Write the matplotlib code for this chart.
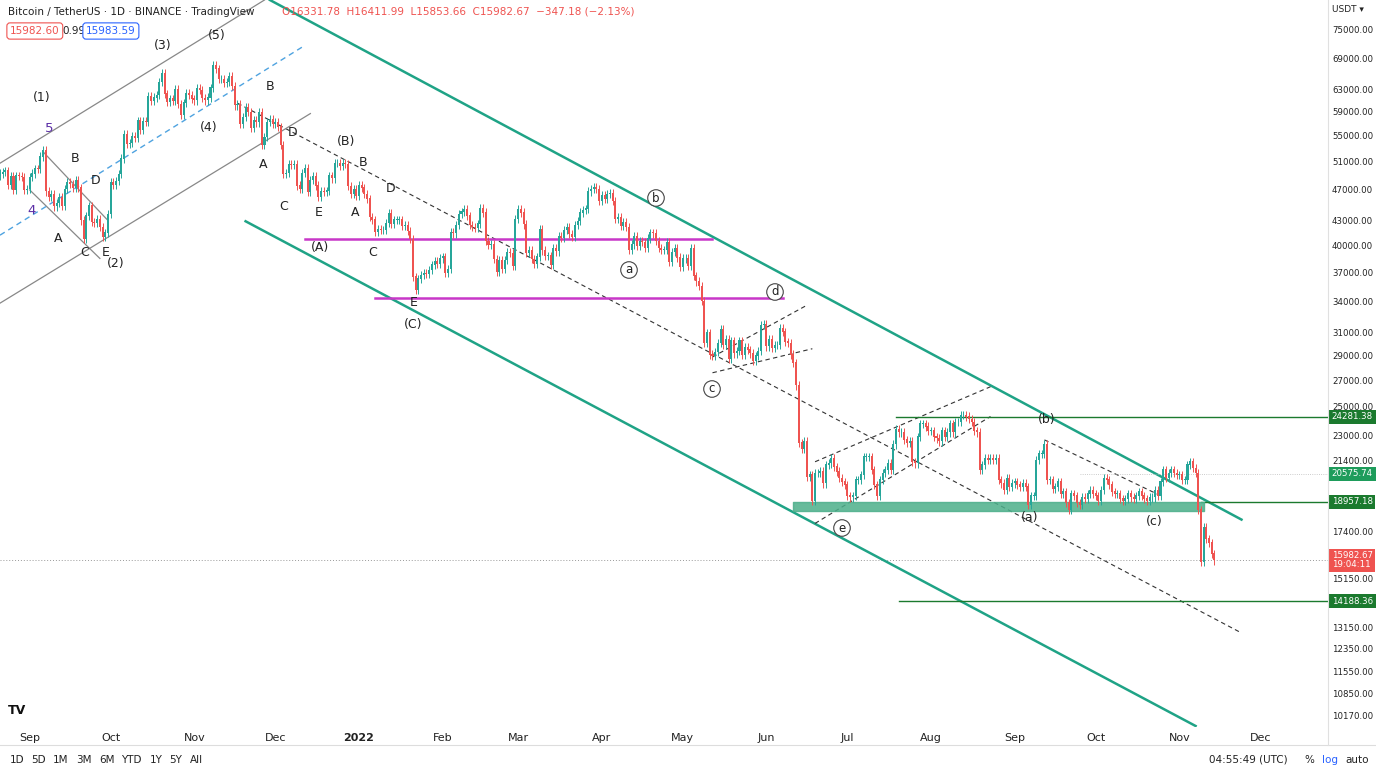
import numpy as np
import pandas as pd
import matplotlib
matplotlib.use("Agg")
import matplotlib.pyplot as plt
import matplotlib.dates as mdates
import matplotlib.transforms as mtransforms

plt.rcParams['font.family'] = ['DejaVu Sans']

# daily closes in thousands USDT, starting 2021-08-21
closes_k = [
    49.3, 49.5, 49.7, 47.7, 48.9, 47.0, 49.0, 48.9, 48.8, 47.0, 47.1,
    48.8, 49.3, 50.0, 49.9, 51.8, 52.7, 46.8, 46.1, 46.4, 44.8, 45.2, 46.0, 44.9, 47.1, 48.1,
    47.8, 47.3, 48.3, 47.3, 43.0, 40.7, 43.6, 44.9, 42.8, 42.7, 43.2, 42.2, 41.0, 41.5, 43.8,
    48.1, 47.7, 48.2, 49.2, 51.5, 55.3, 53.8, 53.9, 54.9, 54.7, 57.5, 56.0, 57.4, 57.3, 61.7,
    60.9, 61.5, 62.0, 64.3, 66.0, 62.2, 60.7, 61.3, 60.9, 63.1, 60.3, 58.5, 60.6, 62.3, 61.9, 61.3,
    61.0, 63.2, 62.9, 61.4, 61.0, 61.5, 63.3, 67.5, 66.9, 64.9, 64.9, 64.1, 64.4, 65.5, 63.6,
    60.1, 60.4, 56.9, 58.1, 59.8, 59.0, 56.3, 57.6, 57.2, 58.9, 53.6, 54.8, 57.3, 57.8, 57.0,
    57.2, 56.5, 53.6, 49.2, 49.4, 50.6, 50.5, 50.6, 47.6, 47.1, 49.4, 50.1, 46.7, 48.4, 48.9,
    47.6, 46.1, 46.8, 46.7, 46.9, 49.0, 48.6, 50.8, 50.8, 50.4, 50.8, 50.7, 47.5, 46.5, 47.1, 46.2,
    47.7, 47.3, 46.4, 45.8, 43.4, 43.1, 41.6, 41.9, 41.8, 41.8, 42.7, 43.9, 42.6, 43.1, 43.1,
    43.1, 42.3, 42.4, 41.7, 40.7, 36.5, 35.1, 36.3, 36.7, 36.9, 36.8, 37.2, 37.8, 38.2, 37.9, 38.5,
    38.7, 36.9, 37.3, 41.6, 41.4, 42.4, 43.8, 44.1, 44.4, 43.6, 42.4, 42.2, 42.1, 42.6,
    44.6, 44.0, 40.5, 40.0, 40.1, 38.4, 37.0, 38.3, 37.3, 38.3, 39.2, 39.1, 37.7, 43.2,
    44.4, 44.0, 42.5, 39.1, 39.4, 38.4, 37.9, 38.7, 41.9, 39.4, 38.8, 38.8, 37.8, 39.7, 39.3,
    41.1, 40.9, 41.8, 42.2, 41.3, 41.0, 42.4, 42.9, 44.0, 44.3, 44.5, 46.8, 47.1, 47.4, 47.1, 45.5,
    46.3, 45.8, 46.4, 46.6, 45.5, 43.2, 43.4, 42.3, 42.8, 42.2, 39.5, 40.1, 41.1, 39.9, 40.5,
    40.4, 39.7, 40.8, 41.5, 41.4, 40.5, 39.7, 39.5, 39.5, 40.4, 38.1, 39.2, 39.7, 38.6, 37.6,
    38.5, 38.5, 37.7, 39.7, 36.6, 36.0, 35.5, 34.0, 30.1, 31.0, 29.1, 29.0, 29.3, 30.1, 31.3,
    29.9, 30.4, 28.7, 30.3, 29.2, 29.4, 30.3, 29.1, 29.7, 29.5, 29.2, 28.6, 29.0, 29.4, 31.7, 31.8,
    29.8, 30.4, 29.7, 29.9, 29.9, 31.4, 31.1, 30.2, 30.1, 29.1, 28.4, 26.6, 22.5, 22.1, 22.6,
    20.4, 20.5, 19.0, 20.6, 20.6, 20.7, 20.0, 21.1, 21.2, 21.5, 21.0, 20.7, 20.3, 20.1, 19.9,
    19.3, 19.2, 19.3, 20.2, 20.2, 20.5, 21.6, 21.6, 21.6, 20.8, 19.9, 19.3, 20.2, 20.6, 20.8,
    21.2, 20.8, 22.4, 23.4, 23.2, 23.2, 22.7, 22.5, 22.6, 21.3, 21.2, 22.9, 23.8, 23.8, 23.6, 23.3,
    23.3, 22.9, 22.8, 22.6, 23.3, 22.9, 23.2, 23.8, 23.2, 23.9, 23.9, 24.4, 24.4, 24.3, 24.1,
    23.9, 23.3, 23.2, 20.8, 21.1, 21.5, 21.4, 21.5, 21.4, 21.5, 20.2, 20.0, 19.6, 20.3, 19.8, 20.0,
    20.1, 19.9, 19.8, 20.0, 19.8, 18.8, 19.3, 19.3, 21.4, 21.8, 21.8, 22.4, 20.2, 20.2, 19.7,
    19.8, 20.1, 19.4, 19.5, 18.9, 18.5, 19.4, 19.3, 18.9, 18.8, 19.2, 19.1, 19.4, 19.6, 19.4,
    19.3, 19.0, 19.6, 20.3, 20.2, 19.9, 19.5, 19.4, 19.4, 19.1, 19.0, 19.1, 19.4, 19.2, 19.1,
    19.3, 19.5, 19.3, 19.1, 19.0, 19.2, 19.2, 19.6, 19.3, 20.1, 20.8, 20.3, 20.6, 20.8, 20.6, 20.5,
    20.5, 20.2, 20.2, 21.1, 21.3, 20.9, 20.6, 18.5, 15.9, 17.6, 17.0, 16.8, 16.3, 15.98,
]
dates = pd.date_range("2021-08-21", periods=len(closes_k), freq="D")
close = np.array(closes_k) * 1000
open_ = np.concatenate([[49000], close[:-1]])
high = np.maximum(open_, close) * 1.012
low = np.minimum(open_, close) * 0.988

UP, DOWN = "#26a69a", "#ef5350"
TEAL = "#1fa386"

# trendlines: (start date, start price, end date, end price)
channel_lines = [
    ("2021-11-29", 81700, "2022-11-24", 18000),
    ("2021-11-20", 42900, "2022-11-07", 9870),
]
mid_dashed = ("2021-11-17", 60500, "2022-11-24", 12940)
gray_lines = [
    ("2021-08-21", 50800, "2021-11-27", 81700),
    ("2021-08-21", 33800, "2021-12-14", 58700),
    ("2021-09-06", 52500, "2021-09-30", 43000),
    ("2021-09-01", 47000, "2021-09-27", 38500),
]
blue_dashed = ("2021-08-21", 41200, "2021-12-12", 71600)
magenta_lines = [("2021-12-12", "2022-05-12", 40700), ("2022-01-07", "2022-06-07", 34300)]
small_dashed = [
    ("2022-05-12", 28900, "2022-06-16", 33600),
    ("2022-05-12", 27600, "2022-06-18", 29600),
    ("2022-06-19", 21300, "2022-08-23", 26500),
    ("2022-06-19", 17800, "2022-08-23", 24300),
    ("2022-09-12", 22700, "2022-10-25", 19300),
]
levels = [("2022-07-19", 24281.38), ("2022-11-09", 18957.18), ("2022-07-20", 14188.36)]
zone = ("2022-06-11", "2022-11-10", 18450, 18940)
last_price = 15982.67

fig = plt.figure(figsize=(13.76, 7.74), dpi=100)
ax = fig.add_axes([0, 0.0607, 0.965, 0.9393])
ax.set_yscale("log")

x = mdates.date2num(dates)
colors = np.where(close >= open_, UP, DOWN)
ax.vlines(x, low, high, colors=colors, lw=0.7, zorder=3)
ax.bar(x, np.abs(close - open_) + 40, bottom=np.minimum(open_, close), width=0.75,
       color=colors, zorder=4)

def d(s):
    return mdates.datestr2num(s)

for a, p1, b, p2 in channel_lines:
    ax.plot([d(a), d(b)], [p1, p2], color=TEAL, lw=1.8, zorder=2)
a, p1, b, p2 = mid_dashed
ax.plot([d(a), d(b)], [p1, p2], color="#333", lw=0.8, ls=(0, (4, 3)), zorder=2)
for a, p1, b, p2 in gray_lines:
    ax.plot([d(a), d(b)], [p1, p2], color="#888", lw=0.9, zorder=2)
a, p1, b, p2 = blue_dashed
ax.plot([d(a), d(b)], [p1, p2], color="#4fa3e0", lw=1, ls=(0, (4, 3)), zorder=2)
for a, b, p in magenta_lines:
    ax.plot([d(a), d(b)], [p, p], color="#c837c8", lw=1.8, zorder=2)
for a, p1, b, p2 in small_dashed:
    ax.plot([d(a), d(b)], [p1, p2], color="#333", lw=0.8, ls=(0, (4, 3)), zorder=2)
for a, p in levels:
    ax.plot([d(a), d("2023-01-10")], [p, p], color="#1b7a2e", lw=1, zorder=2)
ax.plot([d("2022-09-25"), d("2023-01-10")], [20575.74, 20575.74], color="#bbb", lw=0.6, ls=":")
a, b, p1, p2 = zone
ax.fill_between([d(a), d(b)], p1, p2, color="#4caf8a", alpha=0.85, zorder=2)
ax.axhline(last_price, color="#999", lw=0.7, ls=(0, (1, 2)), zorder=1)

ax.set_xlim(d("2021-08-21"), d("2022-12-26"))
ax.set_ylim(9840, 81700)

# axes style
for s in ax.spines.values():
    s.set_visible(False)
ax.yaxis.tick_right()
yt = [75000, 69000, 63000, 59000, 55000, 51000, 47000, 43000, 40000, 37000, 34000, 31000,
      29000, 27000, 25000, 23000, 21400, 17400, 15150, 13150, 12350, 11550, 10850, 10170]
ax.set_yticks(yt)
ax.set_yticks([], minor=True)
ax.set_yticklabels([f"{v:.2f}" for v in yt], fontsize=6.2, color="#222")
ax.tick_params(axis="y", length=0, pad=3)
month_ticks = pd.date_range("2021-09-01", "2022-12-01", freq="MS")
ax.set_xticks(mdates.date2num(month_ticks))
xl = ax.set_xticklabels(["2022" if m.month == 1 else m.strftime("%b") for m in month_ticks],
                        fontsize=8, color="#222")
for t, m in zip(xl, month_ticks):
    if m.month == 1:
        t.set_fontweight("bold")
ax.tick_params(axis="x", length=0, pad=4)

# price tags on axis
trans = mtransforms.blended_transform_factory(ax.transAxes, ax.transData)
tags = [(24281.38, "24281.38", "#1b7a2e"), (20575.74, "20575.74", "#1e9c5b"),
        (18957.18, "18957.18", "#1b7a2e"), (14188.36, "14188.36", "#1b7a2e")]
for p, s, c in tags:
    ax.text(1.003, p, s, transform=trans, fontsize=6.2, color="white", va="center",
            bbox=dict(boxstyle="square,pad=0.3", fc=c, ec="none"), clip_on=False)
ax.text(1.003, last_price, "15982.67\n19:04:11", transform=trans, fontsize=6.2, color="white",
        va="center", linespacing=1.0,
        bbox=dict(boxstyle="square,pad=0.3", fc="#ef5350", ec="none"), clip_on=False)

def ftext(px, py, s, **kw):
    kw.setdefault("fontsize", 9)
    kw.setdefault("color", "#222")
    fig.text(px / 1376, 1 - py / 774, s, ha="center", va="center", **kw)

waves = [(42, 98, "(1)"), (209, 128, "(4)"), (163, 45, "(3)"), (217, 36, "(5)"), (116, 263, "(2)"),
         (58, 238, "A"), (75, 159, "B"), (96, 180, "D"), (85, 252, "C"), (106, 253, "E"),
         (270, 86, "B"), (293, 132, "D"), (263, 164, "A"), (284, 207, "C"), (319, 212, "E"),
         (346, 142, "(B)"), (363, 163, "B"), (355, 212, "A"), (391, 188, "D"), (320, 247, "(A)"),
         (373, 253, "C"), (414, 303, "E"), (413, 324, "(C)"), (1047, 420, "(b)"),
         (1030, 517, "(a)"), (1154, 521, "(c)")]
for px, py, s in waves:
    ftext(px, py, s, fontsize=9)
ftext(49, 128, "5", color="#5b2ea6", fontsize=9.5)
ftext(32, 210, "4", color="#5b2ea6", fontsize=9.5)
for px, py, s in [(656, 198, "b"), (629, 270, "a"), (775, 292, "d"), (712, 389, "c"), (842, 528, "e")]:
    ftext(px, py, s, fontsize=8.5,
          bbox=dict(boxstyle="circle,pad=0.15", fc="white", ec="#444", lw=0.8))

# header
fig.text(8 / 1376, 1 - 12 / 774, "Bitcoin / TetherUS · 1D · BINANCE · TradingView",
         fontsize=7.5, color="#222", va="center")
fig.text(282 / 1376, 1 - 12 / 774, "O16331.78  H16411.99  L15853.66  C15982.67  −347.18 (−2.13%)",
         fontsize=7.5, color="#ef5350", va="center")
fig.text(10 / 1376, 1 - 31 / 774, "15982.60", fontsize=7.5, color="#ef5350", va="center",
         bbox=dict(boxstyle="round,pad=0.3", fc="white", ec="#ef5350", lw=0.8))
fig.text(62 / 1376, 1 - 31 / 774, "0.99", fontsize=7.5, color="#222", va="center")
fig.text(86 / 1376, 1 - 31 / 774, "15983.59", fontsize=7.5, color="#2962ff", va="center",
         bbox=dict(boxstyle="round,pad=0.3", fc="white", ec="#2962ff", lw=0.8))
fig.text(1348 / 1376, 1 - 9 / 774, "USDT ▾", fontsize=6.5, color="#222", ha="center", va="center")
fig.text(17 / 1376, 1 - 711 / 774, "TV", fontsize=9, fontweight="bold", color="#111",
         ha="center", va="center")

# bottom toolbar
fig.add_artist(plt.Line2D([0, 1], [1 - 745 / 774] * 2, color="#ddd", lw=0.8))
fig.add_artist(plt.Line2D([0.965, 0.965], [1 - 745 / 774, 1], color="#e0e0e0", lw=0.8))
for px, s in [(17, "1D"), (38, "5D"), (61, "1M"), (84, "3M"), (107, "6M"), (131, "YTD"),
              (156, "1Y"), (176, "5Y"), (196, "All")]:
    ftext(px, 760, s, fontsize=7.5)
ftext(1248, 760, "04:55:49 (UTC)", fontsize=7.5)
ftext(1309, 760, "%", fontsize=7.5)
ftext(1330, 760, "log", fontsize=7.5, color="#2962ff")
ftext(1357, 760, "auto", fontsize=7.5)

fig.savefig("out.png", dpi=100, facecolor="white")
